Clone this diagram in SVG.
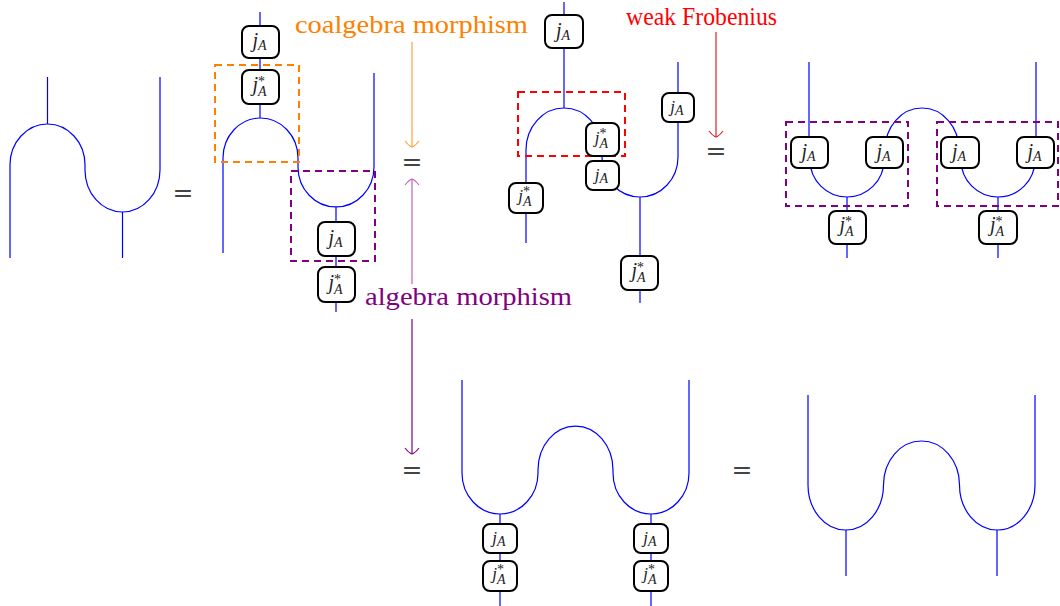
<svg xmlns="http://www.w3.org/2000/svg" width="1060" height="606" viewBox="0 0 1060 606">
<style>
.w{fill:none;stroke:#0000ff;stroke-width:1.2}
.bx{fill:#fff;stroke:#000;stroke-width:2}
.n{font-family:"Liberation Serif",serif;font-style:italic;font-size:20px;fill:#222;text-anchor:middle}
.sm{font-size:17px}
.s{font-size:14px}
.st{font-style:normal;font-size:14px}
.eq{font-family:"DejaVu Serif",serif;font-size:25px;fill:#444;text-anchor:middle}
.lbl{font-family:"Liberation Serif",serif;font-size:25px}
.dO{fill:none;stroke:#ff8000;stroke-width:2;stroke-dasharray:7,5}
.dP{fill:none;stroke:#800080;stroke-width:2;stroke-dasharray:7,5}
.dR{fill:none;stroke:#ff0000;stroke-width:2;stroke-dasharray:7,5}
</style>
<defs>
<marker id="aO" viewBox="-8 -8 10 16" refX="0" refY="0" markerWidth="10" markerHeight="16" markerUnits="userSpaceOnUse" orient="auto"><path d="M-6,-7 Q-1,-3 0,0 Q-1,3 -6,7" fill="none" stroke="#ffa040" stroke-width="1.2"/></marker>
<marker id="aP1" viewBox="-8 -8 10 16" refX="0" refY="0" markerWidth="10" markerHeight="16" markerUnits="userSpaceOnUse" orient="auto"><path d="M-6,-7 Q-1,-3 0,0 Q-1,3 -6,7" fill="none" stroke="#c060c0" stroke-width="1.2"/></marker>
<marker id="aP2" viewBox="-8 -8 10 16" refX="0" refY="0" markerWidth="10" markerHeight="16" markerUnits="userSpaceOnUse" orient="auto"><path d="M-6,-7 Q-1,-3 0,0 Q-1,3 -6,7" fill="none" stroke="#800080" stroke-width="1.2"/></marker>
<marker id="aR" viewBox="-8 -8 10 16" refX="0" refY="0" markerWidth="10" markerHeight="16" markerUnits="userSpaceOnUse" orient="auto"><path d="M-6,-7 Q-1,-3 0,0 Q-1,3 -6,7" fill="none" stroke="#e02020" stroke-width="1.2"/></marker>
</defs>

<g id="connectors">
<path class="w" d="M10,258 V165 A37.5,41 0 0 1 85,165 V170 A37.5,42 0 0 0 160,170 V77"/>
<path class="w" d="M47.5,124 V77 M122.5,212 V258"/>
<path class="w" d="M260,12 V118"/>
<path class="w" d="M223,253 V158 A37.5,40 0 0 1 298,158 V167 A38,40 0 0 0 374,167 V73"/>
<path class="w" d="M336,207 V312"/>
<path class="w" d="M564,2 V108"/>
<path class="w" d="M526,243 V150 A38,42 0 0 1 602,150 V157 A38,40 0 0 0 678,157 V62"/>
<path class="w" d="M640,197 V303"/>
<path class="w" d="M809,62 V150 M1036,62 V150"/>
<path class="w" d="M810,160 A37,37 0 0 0 884,160"/>
<path class="w" d="M885,150 A37,42 0 0 1 959,150"/>
<path class="w" d="M961,160 A37,37 0 0 0 1035,160"/>
<path class="w" d="M847,197 V258 M998,197 V258"/>
<path class="w" d="M462,380 V473 A38,41 0 0 0 538,473 V470 A37.5,44 0 0 1 613,470 V473 A38,41 0 0 0 689,473 V380"/>
<path class="w" d="M500,514 V606 M651,514 V606"/>
<path class="w" d="M808,395 V485 A37.75,45 0 0 0 883.5,485 A38,44 0 0 1 959.5,485 A37.75,45 0 0 0 1035,485 V395"/>
<path class="w" d="M846,530 V576 M997,530 V576"/>
<path d="M412,42 V147" fill="none" stroke="#ffa040" stroke-width="1.2" marker-end="url(#aO)"/>
<path d="M412,284 V179" fill="none" stroke="#c060c0" stroke-width="1.2" marker-end="url(#aP1)"/>
<path d="M412,319 V454" fill="none" stroke="#800080" stroke-width="1.2" marker-end="url(#aP2)"/>
<path d="M716,32 V137" fill="none" stroke="#e02020" stroke-width="1.2" marker-end="url(#aR)"/>
</g>

<g id="frames">
<rect class="dO" x="215" y="65" width="84" height="97"/>
<rect class="dP" x="291" y="171" width="84" height="90"/>
<rect class="dR" x="518" y="92" width="107" height="64"/>
<rect class="dP" x="786" y="122" width="122" height="84"/>
<rect class="dP" x="937" y="122" width="121" height="84"/>
</g>

<g id="d2-jA"><rect class="bx" x="242" y="26" width="37" height="32" rx="7"/><text class="n" x="259.5" y="47">j<tspan class="s" dy="3">A</tspan></text></g>
<g id="d2-jAs"><rect class="bx" x="242" y="70" width="37" height="34" rx="7"/><text class="n" x="259.5" y="91">j<tspan class="st" dy="-5">*</tspan><tspan class="s" dx="-7" dy="10">A</tspan></text></g>
<g id="d2-jA2"><rect class="bx" x="318" y="222" width="37" height="34" rx="7"/><text class="n" x="335.5" y="244">j<tspan class="s" dy="3">A</tspan></text></g>
<g id="d2-jAs2"><rect class="bx" x="318" y="267" width="37" height="35" rx="7"/><text class="n" x="335.5" y="288.5">j<tspan class="st" dy="-5">*</tspan><tspan class="s" dx="-7" dy="10">A</tspan></text></g>

<g id="d3-jA"><rect class="bx" x="545" y="15" width="38" height="33" rx="7"/><text class="n" x="563" y="36.5">j<tspan class="s" dy="3">A</tspan></text></g>
<g id="d3-jAs-mid"><rect class="bx" x="586" y="123" width="33" height="33" rx="7"/><text class="n sm" x="601.5" y="142.5">j<tspan class="st" dy="-5">*</tspan><tspan class="s" dx="-7" dy="10">A</tspan></text></g>
<g id="d3-jA-mid"><rect class="bx" x="586" y="161" width="33" height="29" rx="7"/><text class="n sm" x="601.5" y="180">j<tspan class="s" dy="3">A</tspan></text></g>
<g id="d3-jA-right"><rect class="bx" x="662" y="93" width="32" height="29" rx="7"/><text class="n sm" x="677" y="112">j<tspan class="s" dy="3">A</tspan></text></g>
<g id="d3-jAs-left"><rect class="bx" x="509" y="183" width="34" height="30" rx="7"/><text class="n sm" x="525" y="201">j<tspan class="st" dy="-5">*</tspan><tspan class="s" dx="-7" dy="10">A</tspan></text></g>
<g id="d3-jAs-bottom"><rect class="bx" x="621" y="256" width="37" height="34" rx="7"/><text class="n" x="638.5" y="276.5">j<tspan class="st" dy="-5">*</tspan><tspan class="s" dx="-7" dy="10">A</tspan></text></g>

<g id="d4-jA1"><rect class="bx" x="791" y="137" width="37" height="31" rx="7"/><text class="n" x="808.5" y="157.5">j<tspan class="s" dy="3">A</tspan></text></g>
<g id="d4-jA2"><rect class="bx" x="866" y="137" width="37" height="31" rx="7"/><text class="n" x="883.5" y="157.5">j<tspan class="s" dy="3">A</tspan></text></g>
<g id="d4-jA3"><rect class="bx" x="941" y="137" width="38" height="31" rx="7"/><text class="n" x="959" y="157.5">j<tspan class="s" dy="3">A</tspan></text></g>
<g id="d4-jA4"><rect class="bx" x="1017" y="137" width="37" height="31" rx="7"/><text class="n" x="1034.5" y="157.5">j<tspan class="s" dy="3">A</tspan></text></g>
<g id="d4-jAs1"><rect class="bx" x="829" y="211" width="37" height="33" rx="7"/><text class="n" x="846.5" y="231">j<tspan class="st" dy="-5">*</tspan><tspan class="s" dx="-7" dy="10">A</tspan></text></g>
<g id="d4-jAs2"><rect class="bx" x="979" y="211" width="38" height="33" rx="7"/><text class="n" x="997" y="231">j<tspan class="st" dy="-5">*</tspan><tspan class="s" dx="-7" dy="10">A</tspan></text></g>

<g id="d5-jA1"><rect class="bx" x="483" y="524" width="34" height="29" rx="7"/><text class="n sm" x="499" y="543">j<tspan class="s" dy="3">A</tspan></text></g>
<g id="d5-jAs1"><rect class="bx" x="483" y="561" width="34" height="30" rx="7"/><text class="n sm" x="499" y="579">j<tspan class="st" dy="-5">*</tspan><tspan class="s" dx="-7" dy="10">A</tspan></text></g>
<g id="d5-jA2"><rect class="bx" x="634" y="524" width="34" height="29" rx="7"/><text class="n sm" x="650" y="543">j<tspan class="s" dy="3">A</tspan></text></g>
<g id="d5-jAs2"><rect class="bx" x="634" y="561" width="34" height="30" rx="7"/><text class="n sm" x="650" y="579">j<tspan class="st" dy="-5">*</tspan><tspan class="s" dx="-7" dy="10">A</tspan></text></g>

<g id="equals">
<text class="eq" x="183" y="201">=</text>
<text class="eq" x="412" y="170">=</text>
<text class="eq" x="716" y="159">=</text>
<text class="eq" x="412" y="478">=</text>
<text class="eq" x="742" y="478">=</text>
</g>

<g id="labels">
<text class="lbl" x="295" y="33" fill="#ff8000" textLength="233" lengthAdjust="spacingAndGlyphs">coalgebra morphism</text>
<text class="lbl" x="626" y="25" fill="#ff0000" textLength="151" lengthAdjust="spacingAndGlyphs">weak Frobenius</text>
<text class="lbl" x="365" y="305" fill="#800080" textLength="207" lengthAdjust="spacingAndGlyphs">algebra morphism</text>
</g>
</svg>
